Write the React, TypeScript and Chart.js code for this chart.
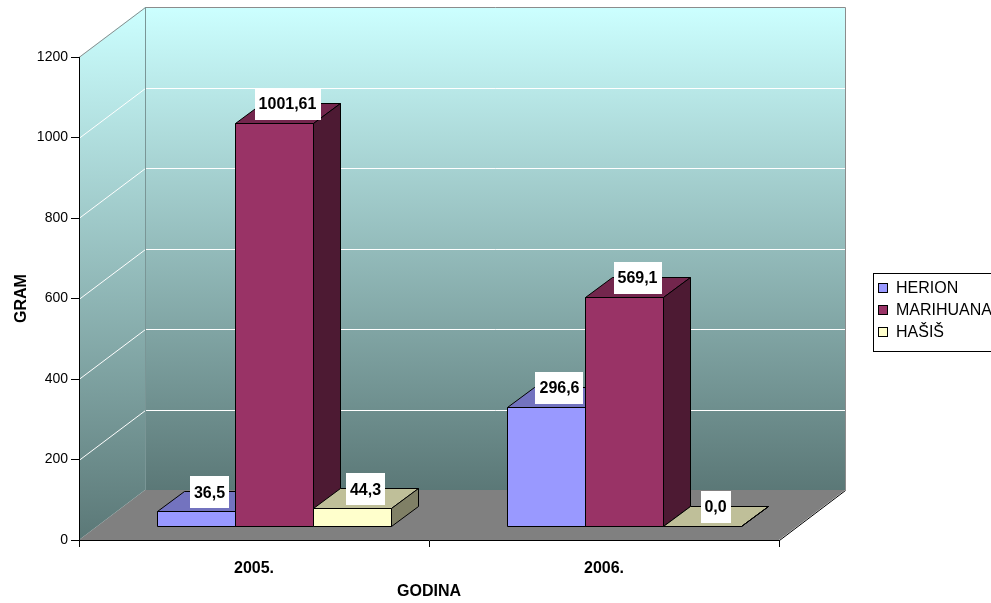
import React, { useEffect, useRef } from 'react';
import { Chart, registerables } from 'chart.js';

Chart.register(...registerables);

// ---- data ----
const categories = ['2005.', '2006.'];
const seriesNames = ['HERION', 'MARIHUANA', 'HAŠIŠ'];
const herion = [36.5, 296.6];
const marihuana = [1001.61, 569.1];
const hasis = [44.3, 0.0];
const yMin = 0;
const yMax = 1200;
const yStep = 200;
const xTitle = 'GODINA';
const yTitle = 'GRAM';

// ---- styles ----
const FONT = '"Liberation Sans", Arial, Helvetica, sans-serif';
const FRONT = ['#9999FF', '#993366', '#FFFFCC'];
const TOP = ['#7373BF', '#73264D', '#BFBF99'];
const SIDE = ['#4D4D80', '#4D1A33', '#808066'];
const WALL = { dx: 66, dy: -50 };
const BAR_OFF = { dx: 20, dy: -14 };
const BAR_D = { dx: 27, dy: -20 };

function fmt(v: number): string {
  let s = String(v);
  if (!s.includes('.')) s += '.0';
  return s.replace('.', ',');
}

function poly(ctx: CanvasRenderingContext2D, pts: number[][]) {
  ctx.beginPath();
  ctx.moveTo(pts[0][0], pts[0][1]);
  for (let i = 1; i < pts.length; i++) ctx.lineTo(pts[i][0], pts[i][1]);
  ctx.closePath();
}

const threeD = {
  id: 'threeD',
  beforeDraw(chart: any) {
    const { ctx, chartArea: a } = chart;
    const y = chart.scales.y;
    const L = a.left, R = a.right, T = a.top, B = a.bottom;
    const dx = WALL.dx, dy = WALL.dy;
    ctx.save();
    // floor
    ctx.fillStyle = '#808080';
    poly(ctx, [[L, B], [R, B], [R + dx, B + dy], [L + dx, B + dy]]);
    ctx.fill();
    // back wall
    const g = ctx.createLinearGradient(0, T + dy, 0, B + dy);
    g.addColorStop(0, '#CCFFFF');
    g.addColorStop(1, '#5B7877');
    ctx.fillStyle = g;
    ctx.fillRect(L + dx, T + dy, R - L, B - T);
    // left wall
    const g2 = ctx.createLinearGradient(0, T + dy, 0, B);
    g2.addColorStop(0, '#CCFFFF');
    g2.addColorStop(1, '#5B7877');
    ctx.fillStyle = g2;
    poly(ctx, [[L, T], [L + dx, T + dy], [L + dx, B + dy], [L, B]]);
    ctx.fill();
    // grid lines on walls
    ctx.strokeStyle = '#FFFFFF';
    ctx.lineWidth = 1;
    for (let v = yMin + yStep; v < yMax; v += yStep) {
      const yf = Math.round(y.getPixelForValue(v)) + 0.5;
      ctx.beginPath();
      ctx.moveTo(L, yf);
      ctx.lineTo(L + dx + 0.5, yf + dy);
      ctx.lineTo(R + dx, yf + dy);
      ctx.stroke();
    }
    // outlines
    ctx.strokeStyle = '#8C8C8C';
    ctx.beginPath();
    ctx.moveTo(L, T + 0.5);
    ctx.lineTo(L + dx + 0.5, T + dy + 0.5);
    ctx.lineTo(R + dx + 0.5, T + dy + 0.5);
    ctx.lineTo(R + dx + 0.5, B + dy);
    ctx.stroke();
    ctx.strokeStyle = '#7A9696';
    ctx.beginPath();
    ctx.moveTo(L + dx + 0.5, T + dy);
    ctx.lineTo(L + dx + 0.5, B + dy);
    ctx.stroke();
    // floor right edge
    ctx.strokeStyle = '#000000';
    ctx.beginPath();
    ctx.moveTo(R + 0.5, B + 0.5);
    ctx.lineTo(R + dx + 0.5, B + dy + 0.5);
    ctx.stroke();
    ctx.restore();
  },
  beforeDatasetsDraw(chart: any) {
    const { ctx } = chart;
    ctx.save();
    ctx.lineWidth = 1;
    ctx.strokeStyle = '#000000';
    chart.data.datasets.forEach((ds: any, i: number) => {
      const meta = chart.getDatasetMeta(i);
      if (meta.hidden) return;
      meta.data.forEach((el: any) => {
        const { x, y, base, width } = el.getProps(['x', 'y', 'base', 'width'], true);
        const x0 = Math.round(x - width / 2 + BAR_OFF.dx) + 0.5;
        const x1 = Math.round(x + width / 2 + BAR_OFF.dx) + 0.5;
        const yt = Math.round(y + BAR_OFF.dy) + 0.5;
        const yb = Math.round(base + BAR_OFF.dy) + 0.5;
        const bdx = BAR_D.dx, bdy = BAR_D.dy;
        // front
        ctx.fillStyle = FRONT[i];
        poly(ctx, [[x0, yt], [x1, yt], [x1, yb], [x0, yb]]);
        ctx.fill();
        ctx.stroke();
        // top
        ctx.fillStyle = TOP[i];
        poly(ctx, [[x0, yt], [x1, yt], [x1 + bdx, yt + bdy], [x0 + bdx, yt + bdy]]);
        ctx.fill();
        ctx.stroke();
        // side
        ctx.fillStyle = SIDE[i];
        poly(ctx, [[x1, yt], [x1 + bdx, yt + bdy], [x1 + bdx, yb + bdy], [x1, yb]]);
        ctx.fill();
        ctx.stroke();
      });
    });
    ctx.restore();
    return false;
  },
  afterDraw(chart: any) {
    const { ctx } = chart;
    ctx.save();
    // data labels
    ctx.font = 'bold 16px ' + FONT;
    ctx.textAlign = 'center';
    ctx.textBaseline = 'middle';
    chart.data.datasets.forEach((ds: any, i: number) => {
      const meta = chart.getDatasetMeta(i);
      meta.data.forEach((el: any, j: number) => {
        const { x, y } = el.getProps(['x', 'y'], true);
        const text = fmt(ds.data[j]);
        const cx = x + BAR_OFF.dx + BAR_D.dx / 2;
        const cy = y + BAR_OFF.dy + BAR_D.dy / 2 - 9;
        const w = Math.round(ctx.measureText(text).width) + 8;
        const h = 32;
        ctx.fillStyle = '#FFFFFF';
        ctx.fillRect(Math.round(cx - w / 2), Math.round(cy - h / 2), w, h);
        ctx.fillStyle = '#000000';
        ctx.fillText(text, cx, cy + 1);
      });
    });
    // legend
    const bx = 873.5, by = 273.5, bw = 140, bh = 78;
    ctx.fillStyle = '#FFFFFF';
    ctx.fillRect(bx, by, bw, bh);
    ctx.strokeStyle = '#000000';
    ctx.lineWidth = 1;
    ctx.strokeRect(bx, by, bw, bh);
    ctx.font = '16px ' + FONT;
    ctx.textAlign = 'left';
    ctx.textBaseline = 'middle';
    chart.data.datasets.forEach((ds: any, i: number) => {
      const cy = 288 + i * 22;
      ctx.fillStyle = ds.backgroundColor;
      ctx.fillRect(878.5, cy - 4.5, 9, 9);
      ctx.strokeRect(878.5, cy - 4.5, 9, 9);
      ctx.fillStyle = '#000000';
      ctx.fillText(ds.label, 896, cy + 1);
    });
    ctx.restore();
  },
};

export default function App() {
  const ref = useRef<HTMLCanvasElement | null>(null);
  useEffect(() => {
    document.body.style.margin = '0';
    const canvas = ref.current;
    if (!canvas) return;
    Chart.defaults.font.family = FONT;
    const chart = new Chart(canvas, {
      type: 'bar',
      data: {
        labels: categories,
        datasets: [
          { label: seriesNames[0], data: herion, backgroundColor: FRONT[0] },
          { label: seriesNames[1], data: marihuana, backgroundColor: FRONT[1] },
          { label: seriesNames[2], data: hasis, backgroundColor: FRONT[2] },
        ],
      },
      options: {
        responsive: false,
        animation: false,
        devicePixelRatio: 1,
        layout: { padding: { left: 0, top: 57, right: 212, bottom: 0 } },
        datasets: { bar: { barPercentage: 1, categoryPercentage: 0.6686 } },
        plugins: { legend: { display: false }, tooltip: { enabled: false } },
        scales: {
          x: {
            type: 'category',
            offset: true,
            grid: { display: true, drawOnChartArea: false, offset: true, tickLength: 7, color: '#000000' },
            border: { display: true, color: '#000000', width: 1 },
            ticks: { color: '#000000', font: { size: 16, weight: 'bold' }, padding: 12, maxRotation: 0 },
            title: {
              display: true, text: xTitle, color: '#000000',
              font: { size: 16, weight: 'bold' }, padding: { top: 0, bottom: 2 },
            },
            afterFit: (s: any) => { s.height = 63; },
          },
          y: {
            min: yMin,
            max: yMax,
            grid: { display: true, drawOnChartArea: false, tickLength: 8, color: '#000000' },
            border: { display: true, color: '#000000', width: 1 },
            ticks: {
              stepSize: yStep, color: '#000000', font: { size: 14 }, padding: 3,
              callback: (v: any) => String(v),
            },
            title: {
              display: true, text: yTitle, color: '#000000',
              font: { size: 16, weight: 'bold' }, padding: { top: 12, bottom: 0 },
            },
            afterFit: (s: any) => { s.width = 79; },
          },
        },
      },
      plugins: [threeD],
    } as any);
    return () => chart.destroy();
  }, []);
  return (
    <div style={{ width: 991, height: 603, position: 'relative', background: '#FFFFFF' }}>
      <canvas ref={ref} width={991} height={603} style={{ display: 'block' }} />
    </div>
  );
}
